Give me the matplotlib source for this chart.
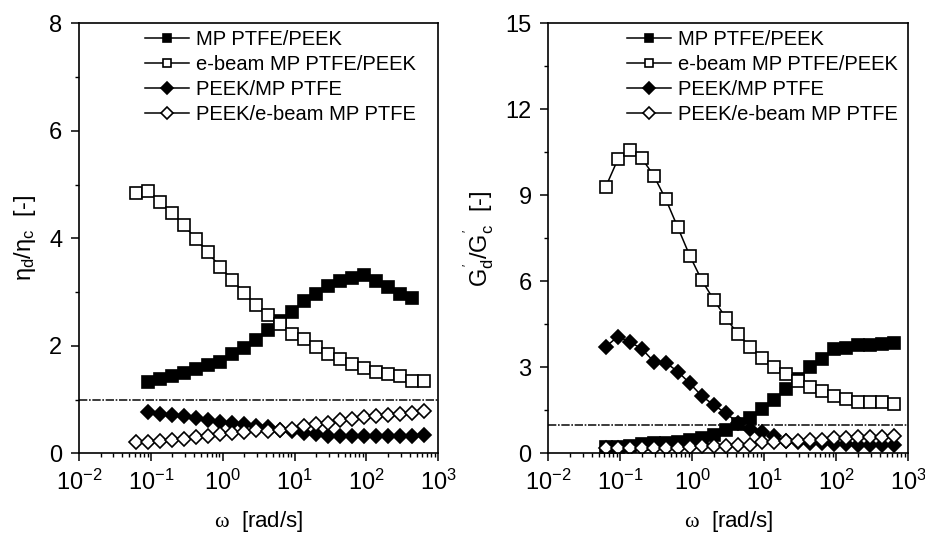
import matplotlib
matplotlib.use("Agg")
import matplotlib.pyplot as plt
from matplotlib.ticker import MultipleLocator, LogLocator, NullFormatter

plt.rcParams["font.family"] = ["Liberation Sans", "DejaVu Sans"]
plt.rcParams["mathtext.fontset"] = "custom"
plt.rcParams["mathtext.rm"] = "Liberation Sans"
plt.rcParams["mathtext.it"] = "Liberation Sans"
plt.rcParams["mathtext.sf"] = "Liberation Serif"

# angular frequency sweep [rad/s]
omega = [0.0628, 0.0922, 0.135, 0.199, 0.292, 0.428, 0.628, 0.922, 1.35, 1.99,
         2.92, 4.28, 6.28, 9.22, 13.5, 19.9, 29.2, 42.8, 62.8, 92.2,
         135, 199, 292, 428, 628]

series_labels = ["MP PTFE/PEEK", "e-beam MP PTFE/PEEK",
                 "PEEK/MP PTFE", "PEEK/e-beam MP PTFE"]

# viscosity ratio eta_d / eta_c
eta_mp = [1.33, 1.39, 1.43, 1.49, 1.56, 1.64, 1.70, 1.85, 1.96, 2.10, 2.29, 2.47,
          2.63, 2.83, 2.97, 3.11, 3.20, 3.27, 3.32, 3.20, 3.09, 2.96, 2.88]
eta_ebeam = [4.84, 4.88, 4.67, 4.47, 4.24, 3.98, 3.74, 3.46, 3.23, 2.98, 2.75, 2.57,
             2.40, 2.22, 2.12, 1.98, 1.85, 1.76, 1.67, 1.59, 1.51, 1.47, 1.43, 1.34, 1.34]
eta_peek_mp = [0.77, 0.74, 0.71, 0.69, 0.66, 0.61, 0.58, 0.57, 0.54, 0.50, 0.48, 0.44,
               0.41, 0.37, 0.35, 0.33, 0.32, 0.32, 0.32, 0.32, 0.33, 0.33, 0.33, 0.34]
eta_peek_ebeam = [0.21, 0.21, 0.23, 0.24, 0.27, 0.30, 0.32, 0.35, 0.37, 0.40, 0.43, 0.41,
                  0.44, 0.46, 0.50, 0.54, 0.57, 0.61, 0.64, 0.67, 0.69, 0.72, 0.74, 0.75, 0.78]

# storage modulus ratio G'_d / G'_c
g_mp = [0.23, 0.23, 0.25, 0.32, 0.35, 0.35, 0.41, 0.46, 0.55, 0.64, 0.81, 1.01,
        1.22, 1.53, 1.86, 2.23, 2.59, 3.02, 3.28, 3.64, 3.66, 3.78, 3.78, 3.81, 3.84]
g_ebeam = [9.30, 10.25, 10.58, 10.29, 9.68, 8.86, 7.88, 6.89, 6.04, 5.35, 4.73, 4.16,
           3.72, 3.31, 3.00, 2.76, 2.52, 2.32, 2.17, 2.01, 1.88, 1.80, 1.78, 1.78, 1.71]
g_peek_mp = [3.72, 4.07, 3.89, 3.64, 3.20, 3.16, 2.85, 2.44, 2.00, 1.68, 1.40, 1.07,
             0.84, 0.75, 0.61, 0.43, 0.40, 0.37, 0.37, 0.32, 0.32, 0.29, 0.29, 0.29, 0.29]
g_peek_ebeam = [0.17, 0.17, 0.17, 0.17, 0.17, 0.17, 0.17, 0.21, 0.25, 0.25, 0.25, 0.29,
                0.29, 0.40, 0.40, 0.44, 0.44, 0.46, 0.46, 0.52, 0.52, 0.58, 0.58, 0.58, 0.61]

fig = plt.figure(figsize=(9.25, 5.37), dpi=100)
ax1 = fig.add_axes([0.0854, 0.1559, 0.3884, 0.8007])
ax2 = fig.add_axes([0.5928, 0.1559, 0.3892, 0.8007])

line_kw = dict(color="black", lw=1.1, mec="black", mew=1.2)
sq = dict(marker="s", ms=8)
dm = dict(marker="D", ms=7.5)


def draw(ax, data):
    (x1, y1), (x2, y2), (x3, y3), (x4, y4) = data
    ax.plot(x1, y1, mfc="black", label=series_labels[0], **sq, **line_kw)
    ax.plot(x2, y2, mfc="white", label=series_labels[1], **sq, **line_kw)
    ax.plot(x3, y3, mfc="black", label=series_labels[2], **dm, **line_kw)
    ax.plot(x4, y4, mfc="white", label=series_labels[3], **dm, **line_kw)
    ax.axhline(1.0, color="#1a1a1a", lw=1.2, ls=(0, (5, 1, 1, 1)), zorder=1)


draw(ax1, [(omega[1:24], eta_mp), (omega, eta_ebeam),
           (omega[1:], eta_peek_mp), (omega, eta_peek_ebeam)])
draw(ax2, [(omega, g_mp), (omega, g_ebeam),
           (omega, g_peek_mp), (omega, g_peek_ebeam)])

for ax, ymax, major, minor, lx in [(ax1, 8, 2, 1, 0.184), (ax2, 15, 3, 1.5, 0.218)]:
    ax.set_xscale("log")
    ax.set_xlim(1e-2, 1e3)
    ax.set_ylim(0, ymax)
    ax.xaxis.set_major_locator(LogLocator(base=10, numticks=10))
    ax.xaxis.set_minor_locator(LogLocator(base=10, subs=range(2, 10), numticks=10))
    ax.xaxis.set_minor_formatter(NullFormatter())
    ax.yaxis.set_major_locator(MultipleLocator(major))
    ax.yaxis.set_minor_locator(MultipleLocator(minor))
    ax.tick_params(which="major", direction="out", length=6, width=1.1,
                   labelsize=17, pad=6, top=False, right=False)
    ax.tick_params(which="minor", direction="out", length=3, width=1.0,
                   top=False, right=False)
    for s in ax.spines.values():
        s.set_linewidth(1.2)
    ax.set_xlabel(r"$\mathsf{\omega}$  [rad/s]", fontsize=16, labelpad=10)
    ax.legend(loc="upper left", bbox_to_anchor=(lx, 0.985), frameon=False,
              fontsize=14.5, borderpad=0, borderaxespad=0, handlelength=2.2,
              handletextpad=0.35, labelspacing=0.3, numpoints=1, markerscale=0.8)

ax1.set_ylabel(r"$\eta_d/\eta_c$  [-]", fontsize=17, labelpad=8)
ax2.set_ylabel(r"$G^{'}_d/G^{'}_c$  [-]", fontsize=17, labelpad=6)

fig.savefig("out.png", dpi=100)
